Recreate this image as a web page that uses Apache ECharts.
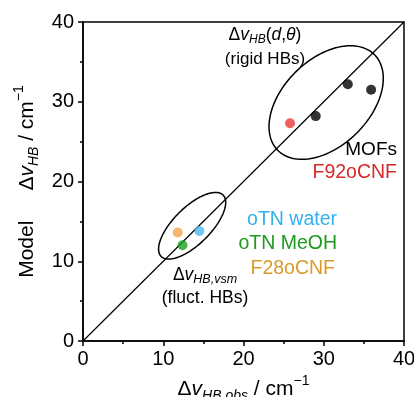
<!DOCTYPE html>
<html><head><meta charset="utf-8">
<script src="https://cdn.jsdelivr.net/npm/echarts@6/dist/echarts.min.js"></script>
<style>html,body{margin:0;padding:0;background:#fff}#c{width:414px;height:397px}</style>
</head><body><div id="c"></div>
<script>
// ---- data ----
const axisTicks = [0, 10, 20, 30, 40];
const mofs = [[29.0, 28.2], [33.0, 32.2], [35.9, 31.5]];
const f92 = [[25.8, 27.3]];
const otnWater = [[14.5, 13.8]];
const otnMeOH = [[12.4, 12.0]];
const f28 = [[11.8, 13.6]];
const diagonal = [[0, 0], [40, 40]];
// ellipses: [cx, cy, semiMajor, semiMinor, angleDeg]
const ellipses = [[30.3, 29.9, 8.5, 5.4, 45], [13.6, 14.45, 5.45, 2.3, 45]];

const FONT = 'Liberation Sans, Arial, sans-serif';
const chart = echarts.init(document.getElementById('c'), null, {renderer: 'canvas'});

function scat(name, data, color) {
  return {name, type: 'scatter', data, symbolSize: 10, itemStyle: {color}, z: 5};
}

const richBase = {
  n: {fontSize: 21, fontFamily: FONT, color: '#000'},
  i: {fontSize: 21, fontFamily: FONT, fontStyle: 'italic', color: '#000'},
  g: {width: 30, fontSize: 21, fontFamily: FONT},
  sub: {fontSize: 14, fontFamily: FONT, fontStyle: 'italic', color: '#000', padding: [13, 0, 0, 0]},
  sup: {fontSize: 14, fontFamily: FONT, color: '#000', padding: [0, 0, 17, 0]}
};

const option = {
  animation: false,
  grid: {left: 83, right: 10, top: 22, bottom: 56, show: true, borderColor: '#000', borderWidth: 1.5,
    containLabel: false, outerBoundsMode: 'none'},
  xAxis: {
    type: 'value', min: 0, max: 40, interval: 10,
    axisLine: {lineStyle: {color: '#000', width: 1.5}},
    axisTick: {show: true, inside: false, length: 5, lineStyle: {color: '#000', width: 1.5}},
    minorTick: {show: true, splitNumber: 2, length: 3, lineStyle: {color: '#000', width: 1.5}},
    splitLine: {show: false},
    axisLabel: {fontSize: 20, fontFamily: FONT, color: '#000', margin: 8,
      formatter: v => axisTicks.includes(v) ? String(v) : ''},
    name: '{n|Δ}{i|v}{sub|HB,obs}{n| / cm}{sup|−1}',
    nameLocation: 'middle', nameGap: 33,
    nameTextStyle: {rich: richBase}
  },
  yAxis: {
    type: 'value', min: 0, max: 40, interval: 10,
    axisLine: {lineStyle: {color: '#000', width: 1.5}},
    axisTick: {show: true, inside: false, length: 5, lineStyle: {color: '#000', width: 1.5}},
    minorTick: {show: true, splitNumber: 2, length: 3, lineStyle: {color: '#000', width: 1.5}},
    splitLine: {show: false},
    axisLabel: {fontSize: 20, fontFamily: FONT, color: '#000', margin: 9,
      formatter: v => axisTicks.includes(v) ? String(v) : ''},
    name: '{n|Model}{g| }{n|Δ}{i|v}{sub|HB}{n| / cm}{sup|−1}',
    nameLocation: 'middle', nameGap: 39,
    nameTextStyle: {rich: richBase}
  },
  series: [
    {type: 'line', data: diagonal, symbol: 'none', lineStyle: {color: '#000', width: 1.2}, z: 2, silent: true},
    {
      type: 'custom', data: ellipses, z: 3, silent: true,
      renderItem: function (params, api) {
        const cx = api.value(0), cy = api.value(1), a = api.value(2), b = api.value(3);
        const th = api.value(4) * Math.PI / 180;
        const pts = [];
        for (let k = 0; k < 120; k++) {
          const t = k / 120 * Math.PI * 2;
          const ex = a * Math.cos(t), ey = b * Math.sin(t);
          pts.push(api.coord([cx + ex * Math.cos(th) - ey * Math.sin(th), cy + ex * Math.sin(th) + ey * Math.cos(th)]));
        }
        return {type: 'polygon', shape: {points: pts}, style: {fill: 'none', stroke: '#000', lineWidth: 1.5}};
      }
    },
    scat('MOFs', mofs, '#000000'),
    scat('F92oCNF', f92, '#e8393b'),
    scat('oTN water', otnWater, '#47baf3'),
    scat('oTN MeOH', otnMeOH, '#1ea01e'),
    scat('F28oCNF', f28, '#f2a54a')
  ],
  graphic: [
    {type: 'text', x: 265, y: 35, style: {text: '{n|Δ}{i|v}{sub|HB}{n|(}{i|d}{n|,}{i|θ}{n|)}', align: 'center', verticalAlign: 'middle',
      rich: {n: {fontSize: 17.5, fontFamily: FONT, color: '#000'}, i: {fontSize: 17.5, fontFamily: FONT, fontStyle: 'italic', color: '#000'},
        sub: {fontSize: 12, fontFamily: FONT, fontStyle: 'italic', color: '#000', padding: [10, 0, 0, 0]}}}},
    {type: 'text', x: 265, y: 59, style: {text: '(rigid HBs)', font: '17px ' + FONT, fill: '#000', align: 'center', verticalAlign: 'middle'}},
    {type: 'text', x: 397, y: 150, style: {text: 'MOFs', font: '19px ' + FONT, fill: '#000', align: 'right', verticalAlign: 'middle'}},
    {type: 'text', x: 397, y: 173, style: {text: 'F92oCNF', font: '19.5px ' + FONT, fill: '#d42a2a', align: 'right', verticalAlign: 'middle'}},
    {type: 'text', x: 337, y: 220, style: {text: 'oTN water', font: '19.5px ' + FONT, fill: '#33b0ee', align: 'right', verticalAlign: 'middle'}},
    {type: 'text', x: 337, y: 244, style: {text: 'oTN MeOH', font: '19.5px ' + FONT, fill: '#1f9a1f', align: 'right', verticalAlign: 'middle'}},
    {type: 'text', x: 335, y: 269, style: {text: 'F28oCNF', font: '19.5px ' + FONT, fill: '#d99a2a', align: 'right', verticalAlign: 'middle'}},
    {type: 'text', x: 205, y: 275, style: {text: '{n|Δ}{i|v}{sub|HB,vsm}', align: 'center', verticalAlign: 'middle',
      rich: {n: {fontSize: 17.5, fontFamily: FONT, color: '#000'}, i: {fontSize: 17.5, fontFamily: FONT, fontStyle: 'italic', color: '#000'},
        sub: {fontSize: 12.5, fontFamily: FONT, fontStyle: 'italic', color: '#000', padding: [10, 0, 0, 0]}}}},
    {type: 'text', x: 205, y: 298, style: {text: '(fluct. HBs)', font: '17.5px ' + FONT, fill: '#000', align: 'center', verticalAlign: 'middle'}}
  ]
};
chart.setOption(option);
</script>
</body></html>
